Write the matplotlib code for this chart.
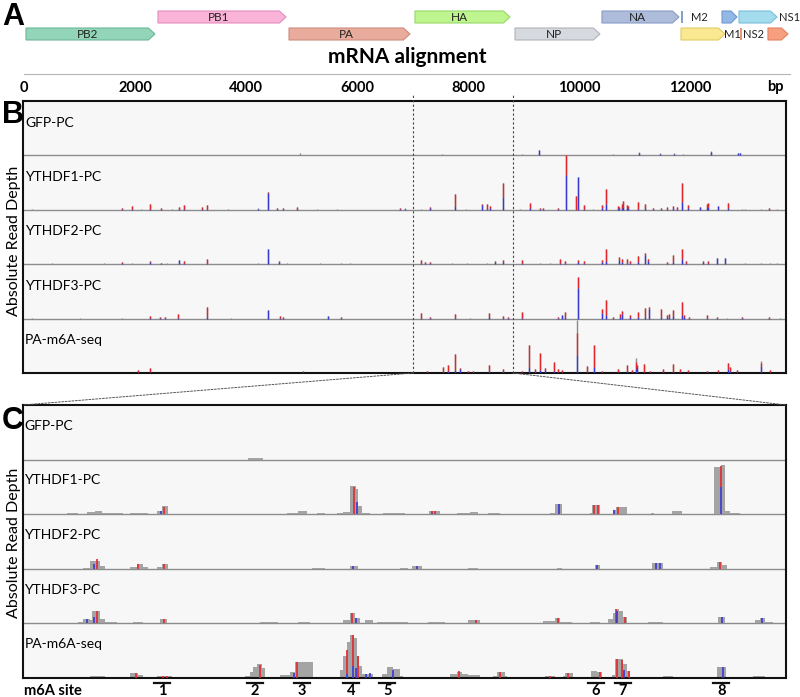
import matplotlib.pyplot as plt
from matplotlib.patches import Polygon, ConnectionPatch

plt.rcParams['font.family'] = ['Lato', 'DejaVu Sans']

W, H = 800, 697

# ---------------- panel A: genome map (bp) ----------------
gene_names = ['PB2', 'PB1', 'PA', 'HA', 'NP', 'NA', '', '', '', '']
gene_start = [36, 2414, 4775, 7045, 8847, 10414, 11838, 12577, 12883, 13405]
gene_end = [2360, 4721, 6955, 8757, 10378, 11802, 12631, 12847, 13568, 13766]
gene_row = [1, 0, 1, 0, 1, 0, 1, 0, 0, 1]
gene_fill = ['#93d5b9', '#f9b4d8', '#e8ab9c', '#bff58f', '#d6d9de', '#aebcdb',
             '#fbe992', '#94b8e6', '#a4dcee', '#f7a07e']
gene_edge = ['#6cb898', '#e58cc0', '#cf8c7c', '#95d866', '#b0b4bb', '#8a9cc4',
             '#e0cc66', '#6f98d0', '#78c0dc', '#e58060']
side_labels = ['M2', 'M1', 'NS2', 'NS1']
side_pos = [12162, 12757, 13153, 13600]
side_row = [0, 1, 1, 0]
splice_pos = [11856, 12919]
splice_row = [0, 1]
splice_color = ['#6d8fc0', '#e8845e']
ruler_ticks = [0, 2000, 4000, 6000, 8000, 10000, 12000]

# zoom window shown in panel C (bp)
zoom_lo, zoom_hi = 7009, 8811

# ---------------- panel B: spikes (bp, height, blue part, red part) ----------------
track_names = ['GFP-PC', 'YTHDF1-PC', 'YTHDF2-PC', 'YTHDF3-PC', 'PA-m6A-seq']

b_gfp = [(4973, 2, 0, 0), (7532, 1, 0, 0), (8973, 1, 0, 0), (9279, 5, 5, 0),
         (10613, 1, 0, 0), (11081, 3, 2, 0), (11459, 2, 1, 0), (11712, 2, 1, 0),
         (11874, 1, 0, 0), (12378, 4, 3, 0), (12865, 2, 2, 0), (12900, 2, 2, 0)]

b_ythdf1 = [(144, 1, 0, 0), (1766, 2, 1, 1), (1946, 4, 1, 3), (2108, 1, 0, 0),
            (2270, 6, 1, 5), (2468, 2, 1, 1), (2667, 1, 0, 0), (2793, 3, 1, 2),
            (2883, 5, 1, 4), (3207, 3, 1, 2), (3297, 5, 1, 4), (3676, 1, 0, 0),
            (4216, 2, 1, 0), (4396, 18, 17, 1), (4559, 2, 1, 1), (4667, 2, 1, 1),
            (4919, 3, 1, 2), (5279, 1, 0, 0), (5640, 1, 0, 0), (6775, 2, 1, 1),
            (6865, 2, 1, 0), (7153, 1, 0, 0), (7315, 3, 2, 1), (7766, 16, 4, 12),
            (7964, 1, 0, 0), (8252, 6, 5, 1), (8342, 6, 1, 5), (8396, 4, 2, 2),
            (8631, 27, 13, 14), (8937, 1, 0, 0), (9117, 7, 2, 5), (9297, 2, 1, 1),
            (9351, 2, 1, 1), (9622, 2, 1, 1), (9766, 54, 35, 19), (9946, 14, 0, 14),
            (9982, 33, 33, 0), (10090, 5, 1, 4), (10252, 1, 0, 0), (10414, 5, 2, 3),
            (10486, 21, 6, 15), (10703, 4, 2, 2), (10721, 3, 1, 2), (10775, 6, 2, 4),
            (10793, 9, 3, 6), (10865, 5, 2, 3), (10883, 4, 2, 2), (11063, 8, 1, 7),
            (11189, 6, 2, 4), (11333, 2, 1, 1), (11477, 2, 1, 1), (11586, 3, 1, 2),
            (11694, 4, 2, 2), (11766, 3, 1, 2), (11856, 27, 8, 19), (11964, 5, 2, 3),
            (12180, 3, 3, 0), (12306, 6, 2, 4), (12324, 7, 3, 4), (12504, 4, 4, 0),
            (12685, 7, 2, 5), (12937, 1, 0, 0), (12991, 1, 0, 0), (13279, 1, 0, 0),
            (13423, 2, 1, 1), (13568, 1, 0, 0)]

b_ythdf2 = [(505, 1, 0, 0), (1441, 1, 0, 0), (1766, 2, 1, 1), (1946, 1, 0, 0),
            (2270, 3, 2, 1), (2468, 1, 1, 0), (2577, 1, 0, 0), (2793, 4, 4, 0),
            (2883, 3, 1, 2), (3297, 5, 1, 4), (4216, 1, 0, 0), (4396, 15, 15, 0),
            (4595, 3, 2, 1), (4739, 1, 0, 0), (5333, 1, 0, 0), (5712, 1, 0, 0),
            (5874, 1, 0, 0), (7153, 4, 1, 3), (7225, 2, 1, 1), (7315, 2, 1, 1),
            (7712, 1, 0, 0), (7982, 1, 0, 0), (8342, 1, 0, 0), (8486, 3, 2, 1),
            (8631, 4, 2, 2), (8973, 4, 1, 3), (9297, 1, 0, 0), (9477, 1, 0, 0),
            (9658, 5, 1, 4), (9748, 3, 1, 2), (9982, 4, 2, 2), (10090, 3, 1, 2),
            (10414, 4, 2, 2), (10486, 15, 3, 12), (10721, 7, 4, 3), (10775, 5, 2, 3),
            (10865, 5, 1, 4), (10919, 3, 1, 2), (11063, 8, 2, 6), (11189, 11, 9, 2),
            (11243, 5, 3, 2), (11586, 2, 1, 1), (11694, 9, 2, 7), (11856, 15, 5, 10),
            (11928, 3, 1, 2), (12234, 3, 2, 1), (12324, 3, 1, 2), (12486, 6, 6, 0),
            (12631, 6, 6, 0), (12991, 1, 0, 0), (13279, 1, 0, 0), (13441, 1, 0, 0),
            (13568, 1, 0, 0)]

b_ythdf3 = [(144, 1, 0, 0), (1009, 1, 0, 0), (1766, 1, 0, 0), (2270, 3, 1, 2),
            (2450, 2, 1, 1), (2541, 2, 1, 1), (2775, 5, 1, 4), (3297, 12, 2, 10),
            (3730, 1, 0, 0), (4396, 9, 9, 0), (4613, 3, 1, 2), (4667, 2, 1, 1),
            (5477, 3, 3, 0), (5712, 2, 1, 1), (7153, 6, 1, 5), (7315, 2, 1, 1),
            (7766, 5, 1, 4), (8036, 1, 0, 0), (8378, 6, 2, 4), (8631, 3, 1, 2),
            (8721, 2, 1, 1), (8973, 7, 1, 6), (9622, 2, 1, 1), (9694, 4, 4, 0),
            (9748, 7, 2, 5), (9982, 41, 30, 11), (10414, 10, 6, 4), (10486, 18, 4, 14),
            (10613, 2, 1, 1), (10739, 5, 2, 3), (10775, 8, 5, 3), (10919, 4, 2, 2),
            (11063, 7, 2, 5), (11189, 11, 2, 9), (11261, 12, 10, 2), (11477, 10, 2, 8),
            (11586, 4, 2, 2), (11622, 5, 2, 3), (11694, 9, 3, 6), (11856, 16, 4, 12),
            (11892, 4, 2, 2), (11982, 2, 1, 1), (12306, 4, 1, 3), (12486, 2, 1, 1),
            (12667, 1, 0, 0), (12937, 2, 1, 1), (13423, 2, 1, 1), (13622, 1, 0, 0)]

b_pa = [(144, 1, 0, 0), (721, 1, 0, 0), (2054, 3, 1, 2), (2270, 5, 1, 4),
        (5027, 2, 1, 1), (5477, 1, 0, 0), (7261, 2, 1, 1), (7550, 6, 1, 5),
        (7640, 8, 2, 6), (7766, 19, 3, 16), (7856, 5, 4, 1), (8000, 2, 1, 1),
        (8090, 2, 1, 1), (8378, 8, 2, 6), (8631, 4, 2, 2), (8973, 2, 1, 1),
        (9099, 28, 6, 22), (9207, 4, 2, 2), (9297, 20, 3, 17), (9387, 5, 3, 2),
        (9549, 11, 2, 9), (9622, 4, 1, 3), (9694, 3, 1, 2), (9964, 53, 18, 22),
        (10144, 7, 1, 6), (10270, 28, 6, 22), (10414, 2, 1, 1), (10703, 4, 1, 3),
        (10865, 8, 2, 6), (10955, 3, 1, 2), (11027, 15, 4, 7), (11045, 8, 6, 2),
        (11171, 9, 1, 8), (11279, 2, 1, 1), (11514, 4, 1, 3), (11694, 9, 1, 8),
        (11820, 4, 1, 3), (11964, 3, 1, 2), (12306, 2, 1, 1), (12504, 3, 1, 2),
        (12685, 10, 4, 6), (12721, 6, 2, 4), (12847, 3, 1, 2), (13279, 12, 7, 3),
        (13441, 3, 1, 2)]

# ---------------- panel C: coverage blocks (start, end, height) in HA window (nt) ----------------
c_gfp_cov = [(531, 567, 2)]
c_gfp_mis = []

c_ythdf1_cov = [(104, 130, 1), (151, 170, 2), (170, 187, 3), (187, 236, 1), (253, 295, 1),
                (317, 328, 3), (328, 342, 8), (624, 650, 1), (650, 671, 3), (694, 713, 1),
                (742, 756, 1), (756, 772, 2), (772, 779, 28), (779, 787, 28), (787, 791, 25),
                (791, 801, 8), (801, 820, 1), (850, 890, 1), (890, 902, 1), (959, 985, 3),
                (1025, 1056, 1), (1056, 1075, 2), (1098, 1127, 1), (1245, 1257, 1),
                (1257, 1273, 10), (1339, 1344, 1), (1344, 1363, 9), (1394, 1401, 4),
                (1401, 1427, 7), (1484, 1490, 1), (1533, 1557, 3), (1632, 1649, 47),
                (1649, 1658, 49), (1658, 1670, 3), (1670, 1694, 1)]
c_ythdf1_mis = [(326, 3, 0), (333, 0, 7), (782, 0, 27), (789, 12, 0), (966, 1, 2),
                (972, 0, 3), (1266, 10, 0), (1349, 0, 9), (1358, 0, 9), (1396, 4, 0),
                (1405, 0, 7), (1649, 27, 21)]

c_ythdf2_cov = [(142, 158, 1), (158, 182, 8), (182, 194, 3), (253, 269, 2), (269, 283, 5),
                (283, 295, 2), (317, 328, 2), (328, 342, 5), (683, 713, 1), (772, 791, 3),
                (890, 909, 1), (919, 942, 3), (1051, 1075, 1), (1261, 1273, 1),
                (1351, 1363, 4), (1486, 1512, 6), (1623, 1639, 2), (1639, 1651, 7),
                (1651, 1663, 4)]
c_ythdf2_mis = [(168, 5, 0), (175, 0, 10), (272, 0, 5), (333, 0, 5), (780, 3, 0),
                (930, 3, 0), (1356, 4, 0), (1495, 6, 0), (1505, 6, 0), (1645, 0, 7)]

c_ythdf3_cov = [(130, 142, 1), (142, 158, 4), (158, 163, 3), (163, 182, 12), (182, 194, 4),
                (194, 222, 1), (260, 283, 1), (324, 340, 4), (560, 602, 1), (650, 678, 1),
                (756, 772, 3), (772, 784, 10), (784, 796, 5), (808, 827, 3), (836, 890, 1),
                (890, 909, 1), (957, 997, 1), (1051, 1079, 3), (1228, 1257, 2),
                (1257, 1268, 5), (1268, 1297, 1), (1339, 1363, 1), (1382, 1394, 4),
                (1394, 1401, 10), (1401, 1408, 14), (1408, 1417, 12), (1417, 1427, 6),
                (1476, 1512, 1), (1642, 1658, 6), (1729, 1741, 3), (1741, 1753, 5),
                (1753, 1771, 1)]
c_ythdf3_mis = [(150, 4, 0), (168, 6, 0), (175, 0, 12), (333, 0, 4), (778, 0, 10),
                (786, 5, 0), (1070, 0, 3), (1263, 0, 5), (1401, 0, 14), (1404, 12, 0),
                (1422, 0, 6), (1650, 6, 0), (1746, 5, 0)]

c_pa_cov = [(40, 57, 1), (158, 194, 2), (253, 272, 5), (272, 283, 3), (317, 352, 2),
            (383, 390, 1), (524, 536, 2), (536, 543, 6), (543, 553, 11), (553, 565, 14),
            (565, 572, 10), (607, 631, 3), (631, 642, 6), (642, 685, 16), (685, 713, 1),
            (749, 756, 8), (756, 765, 22), (765, 772, 36), (772, 782, 43), (782, 789, 40),
            (789, 794, 22), (794, 801, 12), (801, 827, 4), (848, 860, 4), (860, 874, 11),
            (874, 890, 9), (890, 898, 2), (992, 1009, 1), (1009, 1025, 4), (1025, 1037, 6),
            (1037, 1051, 4), (1051, 1079, 3), (1079, 1098, 1), (1110, 1120, 2),
            (1120, 1138, 6), (1138, 1143, 2), (1167, 1181, 1), (1233, 1257, 2),
            (1275, 1280, 2), (1280, 1299, 5), (1342, 1356, 7), (1356, 1368, 6),
            (1391, 1398, 3), (1398, 1417, 19), (1417, 1427, 14), (1427, 1434, 7),
            (1434, 1453, 1), (1512, 1535, 2), (1639, 1660, 11), (1705, 1724, 1),
            (1724, 1753, 2)]
c_pa_mis = [(268, 0, 5), (330, 0, 2), (340, 0, 2), (560, 0, 13), (640, 5, 0), (647, 0, 16),
            (765, 4, 24), (779, 12, 31), (787, 10, 0), (791, 0, 22), (810, 4, 0),
            (820, 5, 0), (874, 8, 0), (1030, 0, 7), (1127, 0, 6), (1245, 0, 2),
            (1287, 0, 5), (1363, 0, 6), (1403, 0, 19), (1415, 0, 18), (1419, 8, 0),
            (1431, 0, 7), (1653, 11, 0)]

site_labels = ['1', '2', '3', '4', '5', '6', '7', '8']
site_pos = [328, 548, 659, 775, 860, 1353, 1417, 1649]

TRACK = 54
GRAY = '#8a8a8a'
CGRAY = '#a4a4a4'
RED = '#e3262c'
BLUE = '#3838d2'
BG = '#f7f7f7'


def box(x0, y0, x1, y1):
    return [x0 / W, 1 - y1 / H, (x1 - x0) / W, (y1 - y0) / H]


def track_frame(ax):
    ax.set_facecolor(BG)
    ax.set_ylim(0, 5 * TRACK)
    ax.set_xticks([])
    ax.set_yticks([])
    for s in ax.spines.values():
        s.set_linewidth(1.5)
        s.set_color('#111111')
    for k in range(1, 5):
        ax.axhline(k * TRACK, color='#8c8c8c', lw=1.0, zorder=1)


def draw_mismatch(ax, x, base, blue, red, lw):
    if blue:
        ax.vlines(x, base, base + blue, color=BLUE, lw=lw, zorder=3)
    if red:
        ax.vlines(x, base + blue, base + blue + red, color=RED, lw=lw, zorder=3)


fig = plt.figure(figsize=(8, 6.97), dpi=100)

# ---- A: genes ----
ax_g = fig.add_axes(box(24, 0, 790, 44))
ax_g.set_xlim(0, 13802)
ax_g.set_ylim(44, 0)
ax_g.axis('off')
row_mid = [17, 34]
for name, x0, x1, r, fc, ec in zip(gene_names, gene_start, gene_end, gene_row,
                                    gene_fill, gene_edge):
    head = min(120, 0.4 * (x1 - x0))
    y = row_mid[r]
    pts = [(x0, y - 6), (x1 - head, y - 6), (x1, y), (x1 - head, y + 6), (x0, y + 6)]
    ax_g.add_patch(Polygon(pts, closed=True, facecolor=fc, edgecolor=ec, lw=0.8))
    if name:
        ax_g.text((x0 + x1 - head) / 2, y + 0.5, name, ha='center', va='center',
                  fontsize=8.5, color='#222222')
for x, r, c in zip(splice_pos, splice_row, splice_color):
    ax_g.vlines(x, row_mid[r] - 6, row_mid[r] + 6, color=c, lw=1.2)
for lab, x, r in zip(side_labels, side_pos, side_row):
    ax_g.text(x, row_mid[r] + 0.5, lab, ha='left' if lab == 'NS1' else 'center',
              va='center', fontsize=8, color='#222222', clip_on=False)

# ---- A: ruler ----
ax_r = fig.add_axes(box(24, 44, 790, 74))
ax_r.set_xlim(0, 13802)
ax_r.set_ylim(0, 1)
ax_r.set_facecolor('none')
for s in ['top', 'left', 'right']:
    ax_r.spines[s].set_visible(False)
ax_r.spines['bottom'].set_color('#b5b5b5')
ax_r.set_yticks([])
ax_r.set_xticks(ruler_ticks)
ax_r.set_xticklabels([str(t) for t in ruler_ticks], fontsize=10.5, fontweight='bold')
ax_r.tick_params(axis='x', length=0, pad=5)
ax_r.text(13532, -0.43, 'bp', ha='center', va='center', fontsize=10.5,
          fontweight='bold')
ax_r.text(0.5, 0.57, 'mRNA alignment', transform=ax_r.transAxes, ha='center',
          va='center', fontsize=15, fontweight='bold')

# ---- B ----
ax_b = fig.add_axes(box(23, 101, 786, 373))
ax_b.set_xlim(-18, 13730)
track_frame(ax_b)
b_tracks = [b_gfp, b_ythdf1, b_ythdf2, b_ythdf3, b_pa]
for k, (name, peaks) in enumerate(zip(track_names, b_tracks)):
    base = (4 - k) * TRACK
    ax_b.text(20, base + 32.5, name, ha='left', va='center', fontsize=10)
    for x, h, blue, red in peaks:
        ax_b.vlines(x, base, base + h, color=GRAY, lw=1.0, zorder=2)
        draw_mismatch(ax_b, x, base, blue, red, 1.0)
ax_b.vlines([zoom_lo, zoom_hi], 0, 5 * TRACK + 8, colors='#444444', lw=0.8,
            linestyles=(0, (2, 2)), clip_on=False, zorder=4)

# ---- C ----
ax_c = fig.add_axes(box(23, 405, 786, 678))
ax_c.set_xlim(0, zoom_hi - zoom_lo)
track_frame(ax_c)
c_cov = [c_gfp_cov, c_ythdf1_cov, c_ythdf2_cov, c_ythdf3_cov, c_pa_cov]
c_mis = [c_gfp_mis, c_ythdf1_mis, c_ythdf2_mis, c_ythdf3_mis, c_pa_mis]
for k, (name, cov, mis) in enumerate(zip(track_names, c_cov, c_mis)):
    base = (4 - k) * TRACK
    ax_c.text(3, base + 33.5, name, ha='left', va='center', fontsize=10)
    ax_c.bar([c[0] for c in cov], [c[2] for c in cov],
             width=[c[1] - c[0] for c in cov], bottom=base, align='edge',
             color=CGRAY, lw=0, zorder=2)
    for x, blue, red in mis:
        draw_mismatch(ax_c, x, base, blue, red, 1.2)

for lab, x in zip(site_labels, site_pos):
    ax_c.plot([x - 19, x + 19], [-5, -5], color='#111111', lw=1.6, clip_on=False)
    ax_c.text(x, -13, lab, ha='center', va='center', fontsize=10.5,
              fontweight='bold', clip_on=False)
ax_c.text(3, -12.5, 'm6A site', ha='left', va='center', fontsize=10.5,
          fontweight='bold', clip_on=False)

# ---- connectors between B and C ----
for xb, xc in [(zoom_lo, 0), (zoom_hi, zoom_hi - zoom_lo)]:
    con = ConnectionPatch(xyA=(xb, 0), coordsA=ax_b.transData,
                          xyB=(xc, 5 * TRACK), coordsB=ax_c.transData,
                          color='#555555', lw=0.7, linestyle=(0, (2, 1.5)))
    fig.add_artist(con)

# ---- panel letters and axis labels ----
for letter, ybase in [('A', 25), ('B', 123), ('C', 429)]:
    fig.text(2 / W, 1 - ybase / H, letter, ha='left', va='baseline', fontsize=22,
             fontweight='bold', family='Liberation Sans')
for yc in [241, 543]:
    fig.text(14 / W, 1 - yc / H, 'Absolute Read Depth', rotation=90, ha='center',
             va='center', fontsize=11.5)

fig.savefig('out.png', dpi=100)
